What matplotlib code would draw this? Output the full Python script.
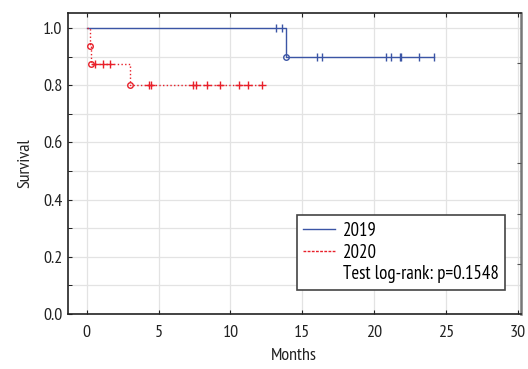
import numpy as np
import matplotlib
matplotlib.use('Agg')
import matplotlib.pyplot as plt
from matplotlib.lines import Line2D
from matplotlib import font_manager

have = set(f.name for f in font_manager.fontManager.ttflist)
prefs = ['PT Sans Narrow', 'Roboto Condensed', 'Fira Sans Condensed',
         'Open Sans Condensed', 'Liberation Sans']
font = [f for f in prefs if f in have][0]
plt.rcParams['font.family'] = [font, 'DejaVu Sans']

# 2019 group
ev19_t = [0.0, 13.9]
ev19_s = [1.0, 0.9]
end19 = 24.2
cens19_t = [13.2, 13.6, 16.0, 16.4, 20.8, 21.2, 21.8, 21.9, 23.1, 24.2]

# 2020 group
ev20_t = [0.0, 0.25, 0.3, 3.0]
ev20_s = [1.0, 0.9375, 0.875, 0.8]
end20 = 12.2
cens20_t = [0.6, 1.1, 1.6, 4.3, 4.5, 7.4, 7.6, 8.4, 9.3, 10.6, 11.2, 12.2]

blue = '#3b55a5'
red = '#e8202a'


def surv_at(t, ev_t, ev_s):
    s = ev_s[0]
    for a, b in zip(ev_t, ev_s):
        if a <= t:
            s = b
    return s


fig = plt.figure(figsize=(5.28, 3.69), dpi=100)
ax = fig.add_axes([0.129, 0.149, 0.857, 0.816])

# curves
x19 = ev19_t + [end19]
y19 = ev19_s + [ev19_s[-1]]
ax.step(x19, y19, where='post', color=blue, lw=1.0, zorder=3)
ax.plot(ev19_t[1:], ev19_s[1:], 'o', mfc='none', mec=blue, ms=4, mew=1, zorder=4)
ax.plot(cens19_t, [surv_at(t, ev19_t, ev19_s) for t in cens19_t], '|',
        color=blue, ms=6, mew=1, zorder=4)

x20 = ev20_t + [end20]
y20 = ev20_s + [ev20_s[-1]]
ax.step(x20, y20, where='post', color=red, lw=1.0, ls=':', zorder=3)
ax.plot(ev20_t[1:], ev20_s[1:], 'o', mfc='none', mec=red, ms=4, mew=1, zorder=4)
ax.plot(cens20_t, [surv_at(t, ev20_t, ev20_s) for t in cens20_t], '+',
        color=red, ms=6, mew=1, zorder=4)

ax.set_xlim(-1.3, 30.2)
ax.set_ylim(0, 1.053)
ax.set_xticks(np.arange(0, 31, 5))
ax.set_yticks(np.arange(0, 1.01, 0.2))
ax.set_yticks(np.arange(0.1, 1.0, 0.2), minor=True)
ax.yaxis.set_major_formatter(matplotlib.ticker.FormatStrFormatter('%.1f'))
ax.grid(True, which='major', color='#e3e3e3', lw=0.9)
ax.grid(True, which='minor', axis='y', color='#e3e3e3', lw=0.9)
ax.tick_params(direction='in', length=3, labelsize=13, colors='#222222', top=True)
ax.tick_params(axis='x', pad=8)
ax.tick_params(axis='y', pad=4)
ax.tick_params(which='minor', direction='in', length=3, left=True)

for s in ['left', 'bottom', 'top']:
    ax.spines[s].set_color('#222222')
    ax.spines[s].set_linewidth(1.2)
ax.spines['right'].set_color('#777777')
ax.spines['right'].set_linewidth(1.8)

ax2 = ax.twinx()
ax2.set_ylim(0, 1.053)
ax2.set_yticks(np.linspace(0, 1.053, 7)[1:-1])
ax2.tick_params(direction='in', length=3, labelright=False, colors='#555555')
for s in ax2.spines.values():
    s.set_visible(False)

ax.set_xlabel('Months', fontsize=13, labelpad=5, color='#222222')
ax.set_ylabel('Survival', fontsize=13, labelpad=7, color='#222222')

handles = [Line2D([], [], color=blue, lw=1.0),
           Line2D([], [], color=red, lw=1.0, ls='--', dashes=(2, 1)),
           Line2D([], [], color='none')]
labels = ['2019', '2020', 'Test log-rank: p=0.1548']
leg = ax.legend(handles, labels, loc='lower left', bbox_to_anchor=(0.505, 0.08),
                fontsize=13.5, frameon=True, fancybox=False, framealpha=1,
                edgecolor='#444444', handlelength=1.7, handletextpad=0.4,
                labelspacing=0.2, borderpad=0.35, borderaxespad=0)
leg.get_frame().set_linewidth(1.2)

fig.savefig('out.png', dpi=100)
